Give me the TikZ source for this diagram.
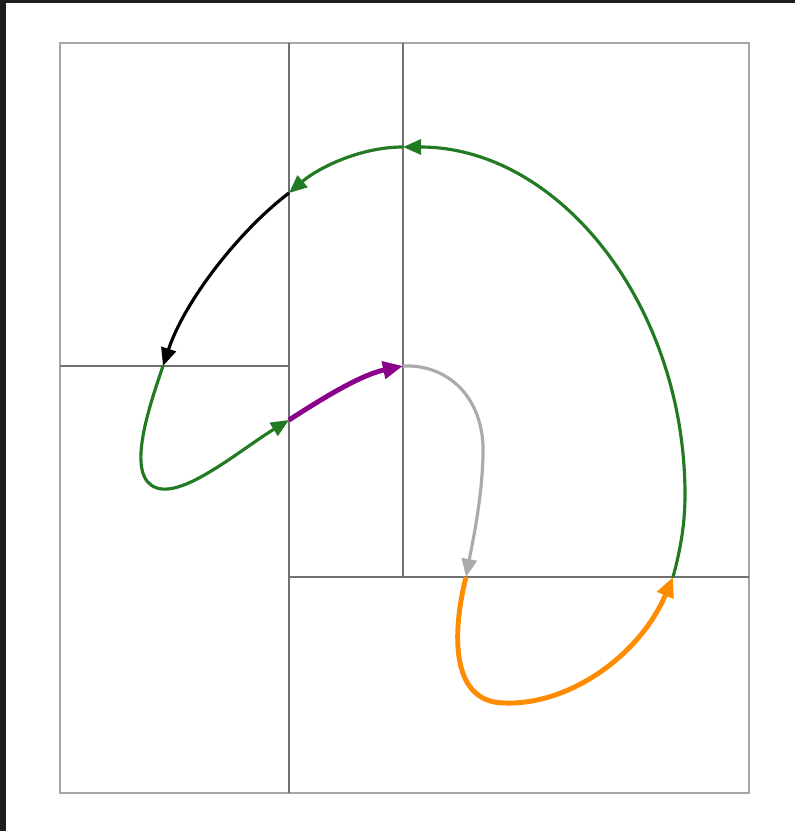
\documentclass[tikz,border=0pt]{standalone}
\usetikzlibrary{arrows.meta, positioning}
\definecolor{cframe}{HTML}{1E1E1E}
\definecolor{cgrid}{HTML}{A6A6A6}
\definecolor{cline}{HTML}{707070}
\definecolor{cgreen}{HTML}{227A22}
\definecolor{cpurple}{HTML}{8B008B}
\definecolor{corange}{HTML}{FF8C00}
\definecolor{cgrey}{HTML}{ABABAB}
\tikzset{
  cell/.style={draw=cline, line width=1.6pt},
  track/.style={draw=#1, line width=1.8pt, -{Triangle[length=0.36cm, width=0.3cm, fill=#1]}},
  track/.default=cgreen,
  bold track/.style={draw=#1, line width=2.8pt, -{Triangle[length=0.4cm, width=0.34cm, fill=#1]}},
}

\begin{document}
\begin{tikzpicture}[x=0.02cm, y=-0.02cm]
  \useasboundingbox (0,0) rectangle (795,831);
  \fill[white] (0,0) rectangle (795,831);
  \fill[cframe] (0,0) rectangle (6,831);
  \fill[cframe] (0,0) rectangle (795,3);
  % cell borders
  \draw[cgrid, line width=1.6pt] (60,43) rectangle (749,793);
  \draw[cell] (289,43) -- (289,793);
  \draw[cell] (403,43) -- (403,577);
  \draw[cell] (60,366) -- (289,366);
  \draw[cell] (289,577) -- (749,577);
  % crossing points
  \coordinate (p1) at (673,577);
  \coordinate (p2) at (403,147);
  \coordinate (p3) at (289,193);
  \coordinate (p4) at (163,366);
  \coordinate (p5) at (289,420);
  \coordinate (p6) at (403,366);
  \coordinate (p7) at (466,577);
  % trajectory
  \draw[track] (p1) .. controls (681,548) and (685,522) .. (685,495)
    .. controls (685,305) and (559,147) .. (p2);
  \draw[track] (p2) .. controls (360,147) and (318,168) .. (p3);
  \draw[track=black] (p3) .. controls (240,230) and (185,300) .. (p4);
  \draw[track] (p4) .. controls (148,410) and (125,478) .. (157,488)
    .. controls (185,497) and (240,450) .. (p5);
  \draw[bold track=cpurple] (p5) .. controls (320,400) and (360,375) .. (p6);
  \draw[track=cgrey] (p6) .. controls (450,364) and (485,400) .. (483,455)
    .. controls (482,500) and (472,545) .. (p7);
  \draw[bold track=corange] (p7) .. controls (455,620) and (445,703) .. (505,703)
    .. controls (570,705) and (640,655) .. (p1);
\end{tikzpicture}
\end{document}
